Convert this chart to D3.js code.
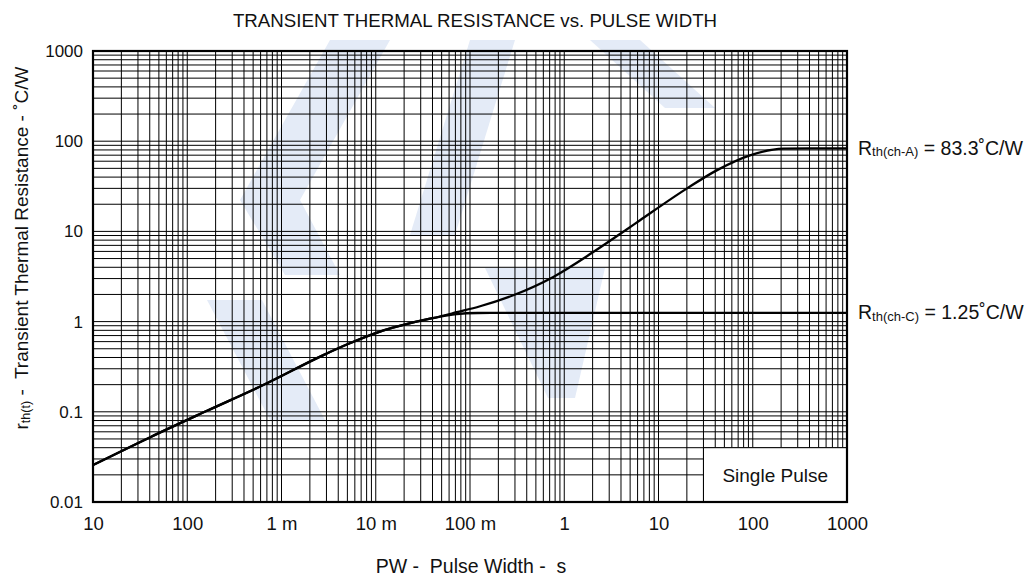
<!DOCTYPE html>
<html>
<head>
<meta charset="utf-8">
<script src="https://cdn.jsdelivr.net/npm/d3@7"></script>
<style>
  html, body { margin: 0; padding: 0; background: #fff; }
  svg { display: block; font-family: "Liberation Sans", Arial, sans-serif; }
  text { fill: #111; }
</style>
</head>
<body>
<svg id="chart" width="1032" height="579"></svg>
<script>
// ---------- data ----------
const xTickValues = [1e-5, 1e-4, 1e-3, 1e-2, 1e-1, 1, 10, 100, 1000];
const xTickLabels = ["10", "100", "1 m", "10 m", "100 m", "1", "10", "100", "1000"];
const yTickValues = [0.01, 0.1, 1, 10, 100, 1000];
const yTickLabels = ["0.01", "0.1", "1", "10", "100", "1000"];

// channel-to-ambient curve (pulse width s, rth °C/W)
const pwA  = [1e-5, 4e-5, 1.6e-4, 6.4e-4, 2.78e-3, 5e-3, 0.0111, 0.0175, 0.025, 0.04, 0.0723, 0.128, 0.288, 0.766, 2.03, 4.59, 6.37, 19.9, 41.4, 93.5, 211, 400, 1000];
const rthA = [0.0257, 0.052, 0.102, 0.198, 0.425, 0.56, 0.775, 0.89, 0.98, 1.09, 1.27, 1.48, 1.96, 3.13, 5.9, 10.5, 13.3, 29.8, 47.5, 69.7, 82.6, 83.3, 83.3];
// channel-to-case curve
const pwC  = [1e-5, 4e-5, 1.6e-4, 6.4e-4, 2.78e-3, 5e-3, 0.0111, 0.0175, 0.025, 0.04, 0.0723, 0.12, 0.2, 1000];
const rthC = [0.0257, 0.052, 0.102, 0.198, 0.425, 0.56, 0.775, 0.89, 0.98, 1.09, 1.21, 1.245, 1.25, 1.25];

const seriesLabels = [
  { main: "R", sub: "th(ch-A)", rest: " = 83.3˚C/W", value: 83.3 },
  { main: "R", sub: "th(ch-C)", rest: " = 1.25˚C/W", value: 1.25 }
];
const titleText = "TRANSIENT THERMAL RESISTANCE vs. PULSE WIDTH";
const xTitleText = "PW -  Pulse Width -  s";
const noteText = "Single Pulse";
const noteBox = { x0: 30, x1: 1000, y0: 0.01, y1: 0.04 };

// ---------- layout ----------
const svg = d3.select("#chart");
const L = 93, R = 847, T = 51, B = 502;
const x = d3.scaleLog().domain([1e-5, 1e3]).range([L, R]);
const y = d3.scaleLog().domain([0.01, 1e3]).range([B, T]);

// watermark (faint logo)
const wm = svg.append("g").attr("fill", "#e4ebf7");
const wmPolys = [
  [[330,40],[390,40],[300,200],[240,200]],
  [[240,200],[300,200],[340,275],[285,275]],
  [[207,300],[262,300],[325,420],[270,420]],
  [[470,40],[515,40],[455,235],[410,235]],
  [[590,40],[640,40],[715,108],[665,108]],
  [[485,268],[605,268],[575,398],[548,398]]
];
wm.selectAll("polygon").data(wmPolys).join("polygon")
  .attr("points", d => d.map(p => p.join(",")).join(" "));

// grid
const gx = [], gy = [];
for (let k = -5; k <= 2; k++) for (let i = 1; i <= 9; i++) gx.push(i * Math.pow(10, k));
gx.push(1000);
for (let k = -2; k <= 2; k++) for (let i = 1; i <= 9; i++) gy.push(i * Math.pow(10, k));
gy.push(1000);

const grid = svg.append("g").attr("stroke", "#000").attr("stroke-width", 1);
grid.selectAll("line.v").data(gx).join("line").attr("class", "v")
  .attr("x1", d => x(d)).attr("x2", d => x(d)).attr("y1", T).attr("y2", B);
grid.selectAll("line.h").data(gy).join("line").attr("class", "h")
  .attr("y1", d => y(d)).attr("y2", d => y(d)).attr("x1", L).attr("x2", R);

// note box
svg.append("rect")
  .attr("x", x(noteBox.x0)).attr("y", y(noteBox.y1))
  .attr("width", x(noteBox.x1) - x(noteBox.x0)).attr("height", y(noteBox.y0) - y(noteBox.y1))
  .attr("fill", "#fff").attr("stroke", "#000").attr("stroke-width", 1);
svg.append("text")
  .attr("x", (x(noteBox.x0) + x(noteBox.x1)) / 2)
  .attr("y", (y(noteBox.y0) + y(noteBox.y1)) / 2)
  .attr("dy", "0.36em").attr("text-anchor", "middle")
  .style("font-size", "19px").text(noteText);

// curves
const line = d3.line().x(d => x(d[0])).y(d => y(d[1])).curve(d3.curveMonotoneX);
const curves = [d3.zip(pwA, rthA), d3.zip(pwC, rthC)];
svg.append("g").selectAll("path").data(curves).join("path")
  .attr("d", line).attr("fill", "none").attr("stroke", "#000")
  .attr("stroke-width", 2.3).attr("stroke-linejoin", "round");

// frame
svg.append("rect").attr("x", L).attr("y", T).attr("width", R - L).attr("height", B - T)
  .attr("fill", "none").attr("stroke", "#000").attr("stroke-width", 2.2);

// axes
const xAxis = d3.axisBottom(x).tickValues(xTickValues)
  .tickFormat((d, i) => xTickLabels[i]).tickSize(0).tickPadding(15);
const gxA = svg.append("g").attr("transform", `translate(0,${B})`).call(xAxis);
gxA.select(".domain").remove();
gxA.selectAll("text").style("font-size", "18.5px").attr("fill", "#111")
  .style("font-family", "'Liberation Sans', Arial, sans-serif");

const yAxis = d3.axisLeft(y).tickValues(yTickValues)
  .tickFormat((d, i) => yTickLabels[i]).tickSize(0).tickPadding(10);
const gyA = svg.append("g").attr("transform", `translate(${L},0)`).call(yAxis);
gyA.select(".domain").remove();
gyA.selectAll("text").style("font-size", "17px").attr("fill", "#111")
  .style("font-family", "'Liberation Sans', Arial, sans-serif");

// title
svg.append("text").attr("x", 475).attr("y", 27).attr("text-anchor", "middle")
  .style("font-size", "18.7px").text(titleText);

// x title
svg.append("text").attr("x", 471).attr("y", 573).attr("text-anchor", "middle")
  .style("font-size", "19.5px").style("white-space", "pre").text(xTitleText);

// y title
const yt = svg.append("text").attr("transform", "translate(28,248) rotate(-90)")
  .attr("text-anchor", "middle").style("font-size", "19px").style("white-space", "pre");
yt.append("tspan").text("r");
yt.append("tspan").attr("dy", 2).style("font-size", "12.5px").text("th(t)");
yt.append("tspan").attr("dy", -2).text(" -  Transient Thermal Resistance - ˚C/W");

// right labels
const rl = svg.append("g").selectAll("text").data(seriesLabels).join("text")
  .attr("x", 858).attr("y", d => y(d.value) + 6.5).style("font-size", "19.5px");
rl.append("tspan").text(d => d.main);
rl.append("tspan").attr("dy", 1.5).style("font-size", "13px").text(d => d.sub);
rl.append("tspan").attr("dy", -1.5).text(d => d.rest);
</script>
</body>
</html>
